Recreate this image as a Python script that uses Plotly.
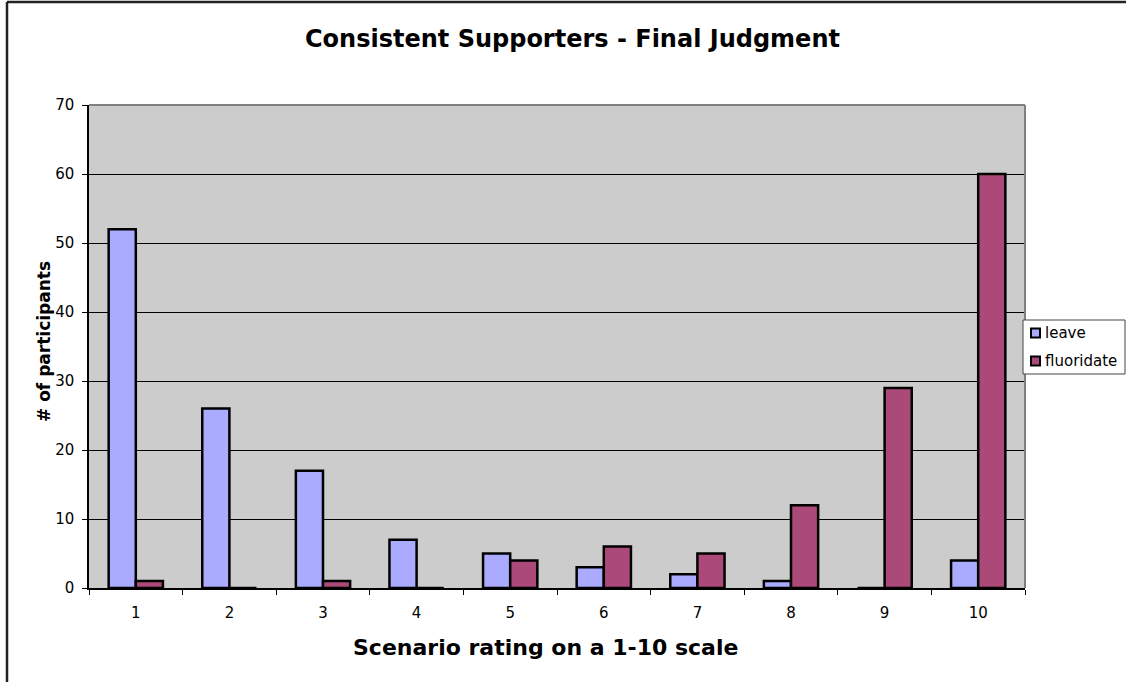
import plotly.graph_objects as go

# Ratings on the 1-10 scale and participant counts per choice
ratings = ["1", "2", "3", "4", "5", "6", "7", "8", "9", "10"]
leave = [52, 26, 17, 7, 5, 3, 2, 1, 0, 4]
fluoridate = [1, 0, 1, 0, 4, 6, 5, 12, 29, 60]
y_ticks = [0, 10, 20, 30, 40, 50, 60, 70]

series = [("leave", leave, "#AAAAFF"), ("fluoridate", fluoridate, "#AB4A78")]

W, H = 1126, 682
L, R, T, B = 89, 101, 105, 94
PW, PH = W - L - R, H - T - B

FONT = "DejaVu Sans"

fig = go.Figure()
for name, values, color in series:
    fig.add_trace(go.Bar(x=ratings, y=values, name=name, showlegend=False,
                         marker=dict(color=color, line=dict(color="black", width=2.5))))


def px_x(px):
    return (px - L) / PW


def px_y(py):
    return (H - B - py) / PH


shapes = [
    # gray frame on top and right of the plot area
    dict(type="line", xref="paper", yref="paper", x0=0, x1=1, y0=1, y1=1,
         line=dict(color="#808080", width=2)),
    dict(type="line", xref="paper", yref="paper", x0=1, x1=1, y0=0, y1=1,
         line=dict(color="#808080", width=2)),
    # outer chart frame
    dict(type="line", xref="paper", yref="paper", x0=px_x(7), x1=px_x(1130),
         y0=px_y(2), y1=px_y(2), line=dict(color="#222222", width=2.5)),
    dict(type="line", xref="paper", yref="paper", x0=px_x(7), x1=px_x(7),
         y0=px_y(2), y1=px_y(690), line=dict(color="#222222", width=2.5)),
    # legend box
    dict(type="rect", xref="paper", yref="paper", x0=px_x(1023), x1=px_x(1125),
         y0=px_y(374), y1=px_y(320), fillcolor="white",
         line=dict(color="#444444", width=1)),
]

annotations = [
    dict(text="<b>Consistent Supporters - Final Judgment</b>", xref="paper", yref="paper",
         x=px_x(572), y=px_y(39), showarrow=False, xanchor="center", yanchor="middle",
         font=dict(family=FONT, size=24, color="black")),
    dict(text="<b>Scenario rating on a 1-10 scale</b>", xref="paper", yref="paper",
         x=px_x(545), y=px_y(647), showarrow=False, xanchor="center", yanchor="middle",
         font=dict(family=FONT, size=22, color="black")),
    dict(text="<b># of participants</b>", xref="paper", yref="paper",
         x=px_x(44), y=px_y(342), showarrow=False, xanchor="center", yanchor="middle",
         textangle=-90, font=dict(family=FONT, size=17, color="black")),
]

# legend entries: swatch plus label for each series
for i, (name, values, color) in enumerate(series):
    cy = 333 + i * 28
    shapes.append(dict(type="rect", xref="paper", yref="paper",
                       x0=px_x(1031), x1=px_x(1040), y0=px_y(cy + 4.5), y1=px_y(cy - 4.5),
                       fillcolor=color, line=dict(color="black", width=2)))
    annotations.append(dict(text=name, xref="paper", yref="paper",
                            x=px_x(1043), y=px_y(cy), showarrow=False,
                            xanchor="left", yanchor="middle",
                            font=dict(family=FONT, size=15, color="black")))

fig.update_layout(
    width=W, height=H,
    margin=dict(l=L, r=R, t=T, b=B, autoexpand=False),
    paper_bgcolor="white",
    plot_bgcolor="#CCCCCC",
    barmode="group",
    bargap=0.42,
    bargroupgap=0,
    font=dict(family=FONT, size=15, color="black"),
    showlegend=False,
    shapes=shapes,
    annotations=annotations,
)

fig.update_xaxes(type="category", tickson="boundaries", ticks="outside", ticklen=5,
                 tickcolor="black", showline=True, linecolor="black", linewidth=1.5,
                 showgrid=False, ticklabelstandoff=10, tickfont=dict(size=15))
fig.update_yaxes(range=[0, 70], tickvals=y_ticks, ticks="outside", ticklen=5,
                 tickcolor="black", showline=True, linecolor="black", linewidth=1.5,
                 showgrid=True, gridcolor="black", gridwidth=1, zeroline=False,
                 ticklabelstandoff=5, tickfont=dict(size=15))

fig.write_html("out.html")
